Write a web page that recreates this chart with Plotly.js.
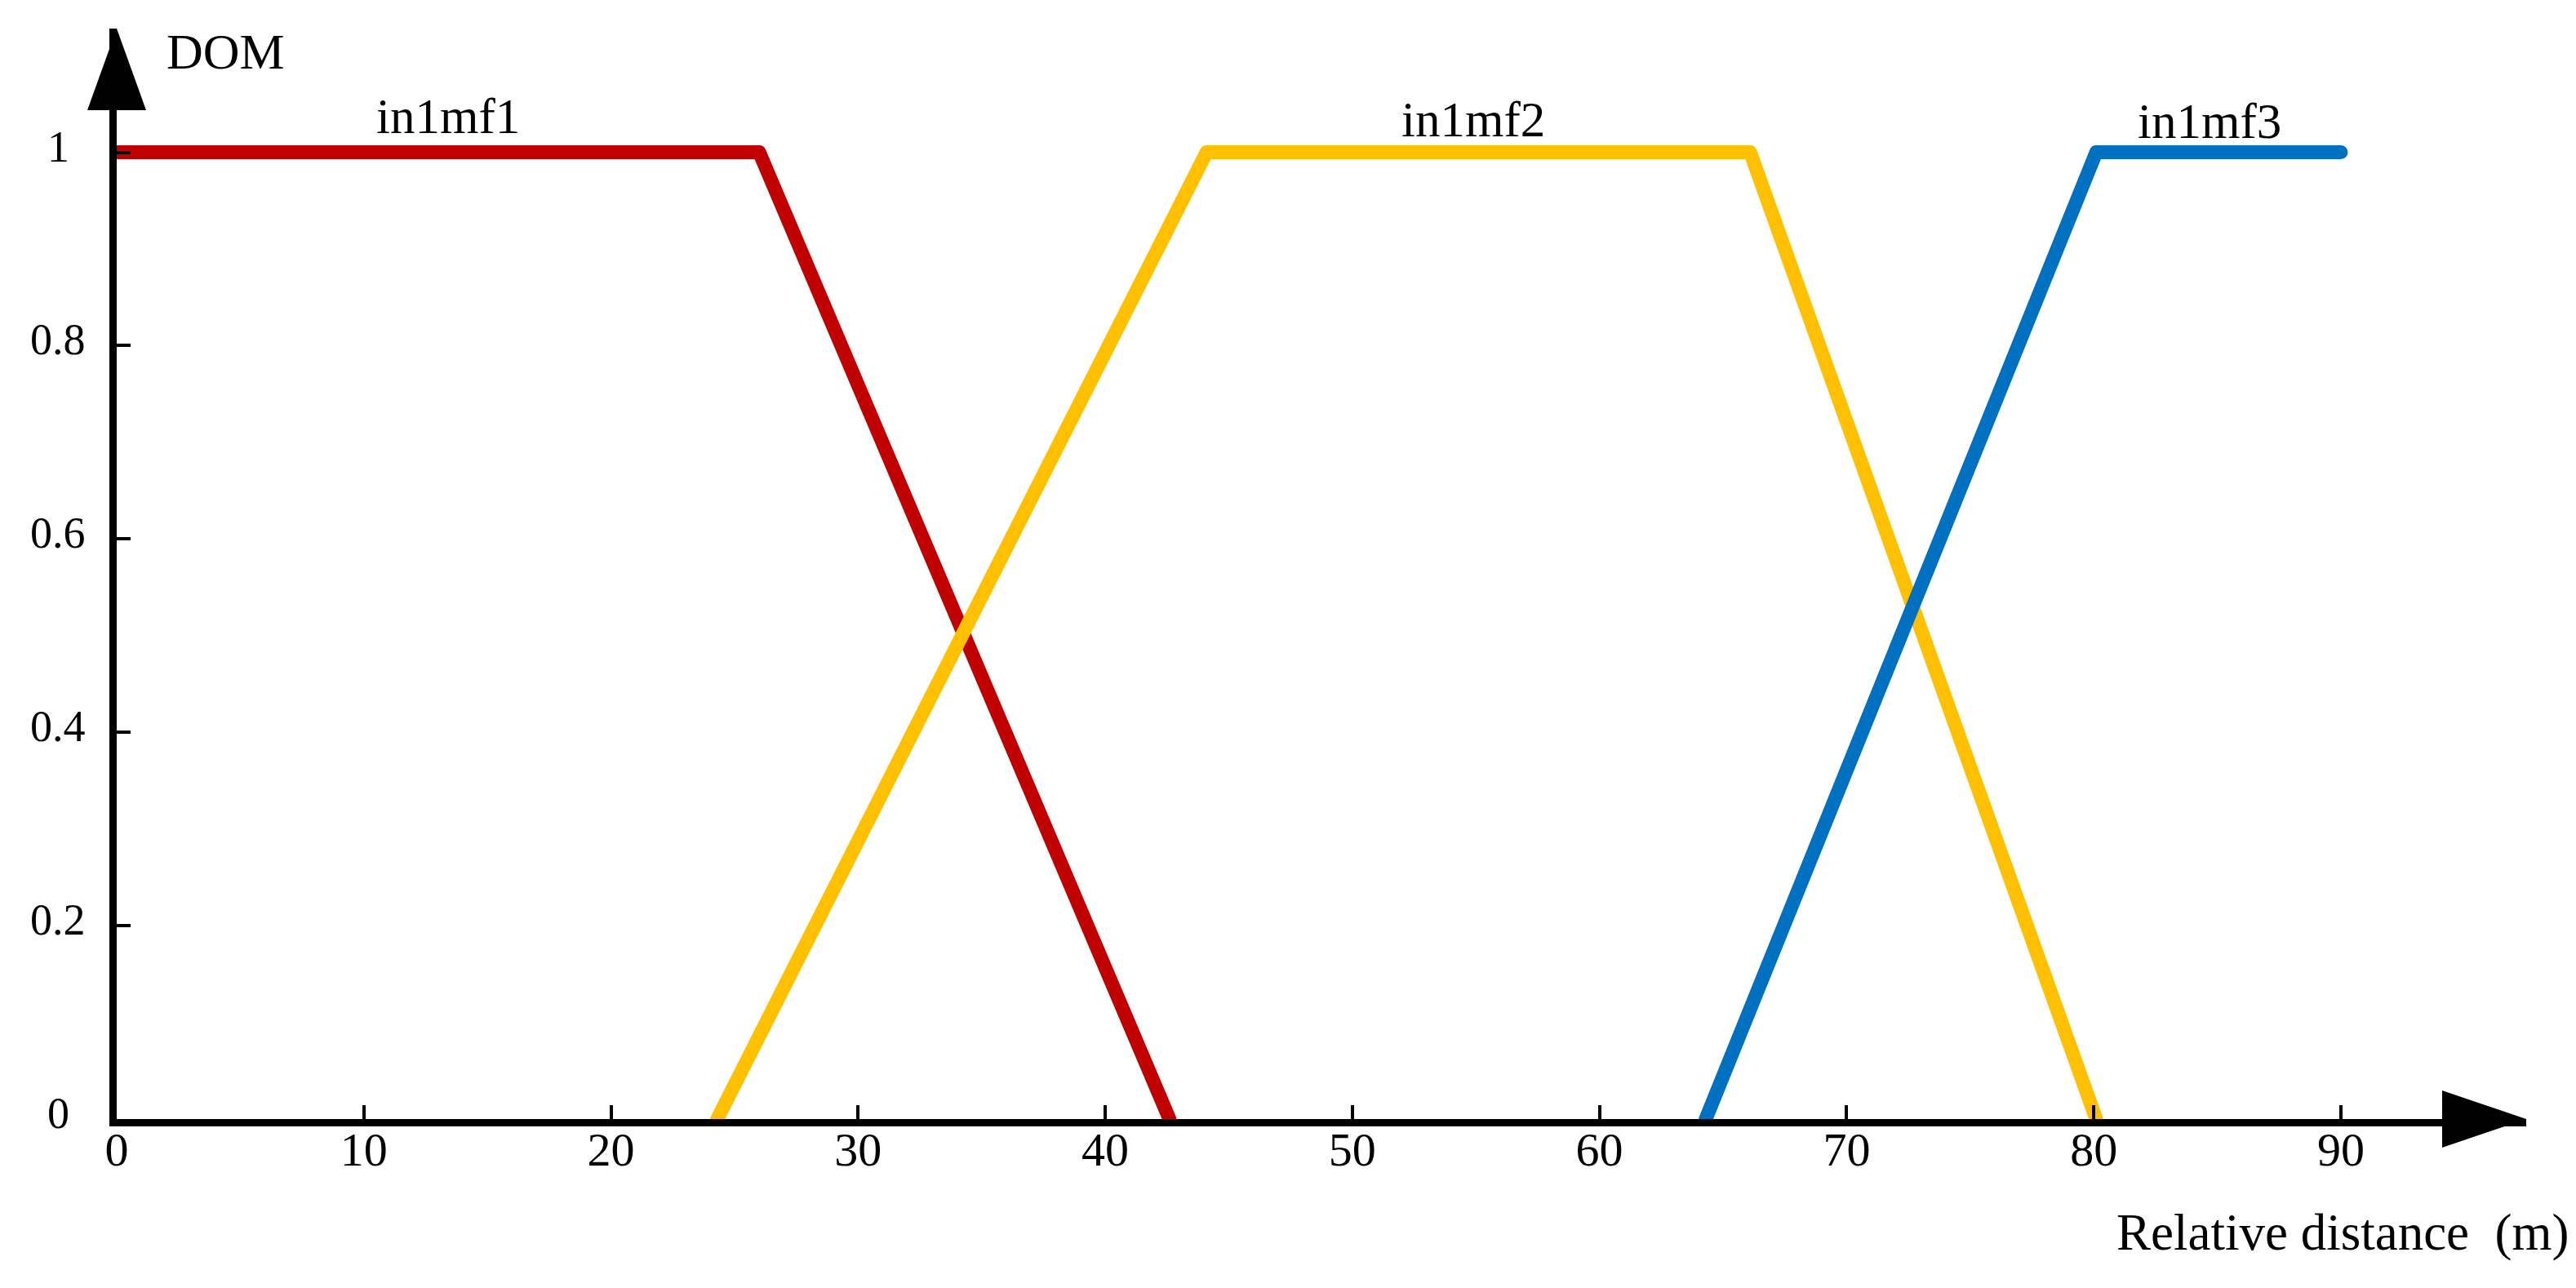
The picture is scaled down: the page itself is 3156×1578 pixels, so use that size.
<!DOCTYPE html>
<html>
<head>
<meta charset="utf-8">
<script src="https://cdn.plot.ly/plotly-3.0.1.min.js"></script>
<style>
  html, body { margin: 0; padding: 0; background: #fff; }
  #chart { width: 3156px; height: 1578px; }
</style>
</head>
<body>
<div id="chart"></div>
<script>
// membership functions of the relative distance input
const mf1X = [0, 26, 42.6];
const mf1Y = [1, 1, 0];
const mf2X = [24.3, 44.1, 66.1, 80.1];
const mf2Y = [0, 1, 1, 0];
const mf3X = [64.3, 80.1, 90];
const mf3Y = [0, 1, 1];

const mfNames = ['in1mf1', 'in1mf2', 'in1mf3'];
const mfLabelX = [13.4, 54.9, 84.7];
const mfLabelY = [1.037, 1.034, 1.032];
const mfColors = ['#C00000', '#FFC000', '#0070C0'];

const xTicks = [0, 10, 20, 30, 40, 50, 60, 70, 80, 90];
const yTicks = [0, 0.2, 0.4, 0.6, 0.8, 1];
const yTickText = ['0', '0.2', '0.4', '0.6', '0.8', '1'];

const FONT = '"Liberation Serif", "Times New Roman", serif';
const X_MAX = 97.5;
const Y_MAX = 1.128;

const W = 3156, H = 1578;
const M = { t: 35, r: 61, b: 207, l: 143 };
const plotW = W - M.l - M.r;
const plotH = H - M.t - M.b;

function mfTrace(x, y, color, name) {
    return {
        x: x,
        y: y,
        mode: 'lines',
        type: 'scatter',
        name: name,
        line: { color: color, width: 17 },
        cliponaxis: false,
        hoverinfo: 'skip'
    };
}

const traces = [
    mfTrace(mf1X, mf1Y, mfColors[0], mfNames[0]),
    mfTrace(mf2X, mf2Y, mfColors[1], mfNames[1]),
    mfTrace(mf3X, mf3Y, mfColors[2], mfNames[2])
];

// curve names above the plateaus
const annotations = mfNames.map((name, i) => ({
    x: mfLabelX[i], y: mfLabelY[i], xref: 'x', yref: 'y',
    text: name, showarrow: false,
    xanchor: 'center', yanchor: 'middle',
    font: { family: FONT, size: 61, color: '#000' }
}));

// y tick labels, centred like the original
yTicks.forEach((v, i) => {
    annotations.push({
        x: -72 / plotW, y: v, xref: 'paper', yref: 'y',
        text: yTickText[i], showarrow: false,
        xanchor: 'center', yanchor: 'middle', yshift: 7,
        font: { family: FONT, size: 54, color: '#000' }
    });
});

annotations.push({
    x: 59 / plotW, y: 1.104, xref: 'paper', yref: 'y',
    text: 'DOM', showarrow: false,
    xanchor: 'left', yanchor: 'middle',
    font: { family: FONT, size: 62, color: '#000' }
});
annotations.push({
    x: 1 + 55 / plotW, y: -139 / plotH, xref: 'paper', yref: 'paper',
    text: 'Relative distance\u00a0\u00a0(m)', showarrow: false,
    xanchor: 'right', yanchor: 'middle',
    font: { family: FONT, size: 63, color: '#000' }
});

// arrow heads at the ends of both axes (pixel sizes turned into paper units)
const ax = 103 / plotW, ah = 35 / plotH;
const ay = 100 / plotH, aw = 36 / plotW;
const shapes = [
    {
        type: 'path', xref: 'paper', yref: 'paper',
        path: `M ${1 - ax},${-ah} L 1,0 L ${1 - ax},${ah} Z`,
        fillcolor: '#000', line: { width: 0 }
    },
    {
        type: 'path', xref: 'paper', yref: 'paper',
        path: `M ${-aw},${1 - ay} L 0,1 L ${aw},${1 - ay} Z`,
        fillcolor: '#000', line: { width: 0 }
    }
];

const layout = {
    width: W,
    height: H,
    paper_bgcolor: 'white',
    plot_bgcolor: 'white',
    showlegend: false,
    margin: M,
    font: { family: FONT, size: 58, color: '#000' },
    xaxis: {
        range: [0, X_MAX],
        tickvals: xTicks,
        ticks: 'inside',
        ticklen: 17,
        tickwidth: 4,
        tickcolor: '#000',
        ticklabelstandoff: -22,
        showline: true,
        linecolor: '#000',
        linewidth: 9,
        showgrid: false,
        zeroline: false,
        tickfont: { family: FONT, size: 58, color: '#000' }
    },
    yaxis: {
        range: [0, Y_MAX],
        tickvals: yTicks,
        ticks: 'inside',
        ticklen: 17,
        tickwidth: 4,
        tickcolor: '#000',
        showticklabels: false,
        showline: true,
        linecolor: '#000',
        linewidth: 9,
        showgrid: false,
        zeroline: false
    },
    annotations: annotations,
    shapes: shapes
};

Plotly.newPlot('chart', traces, layout, { staticPlot: true, displayModeBar: false }).then(() => {
    // rounded line ends as in the original figure
    document.querySelectorAll('.scatterlayer path.js-line').forEach(p => {
        p.style.strokeLinecap = 'round';
        p.style.strokeLinejoin = 'round';
    });
});
</script>
</body>
</html>
